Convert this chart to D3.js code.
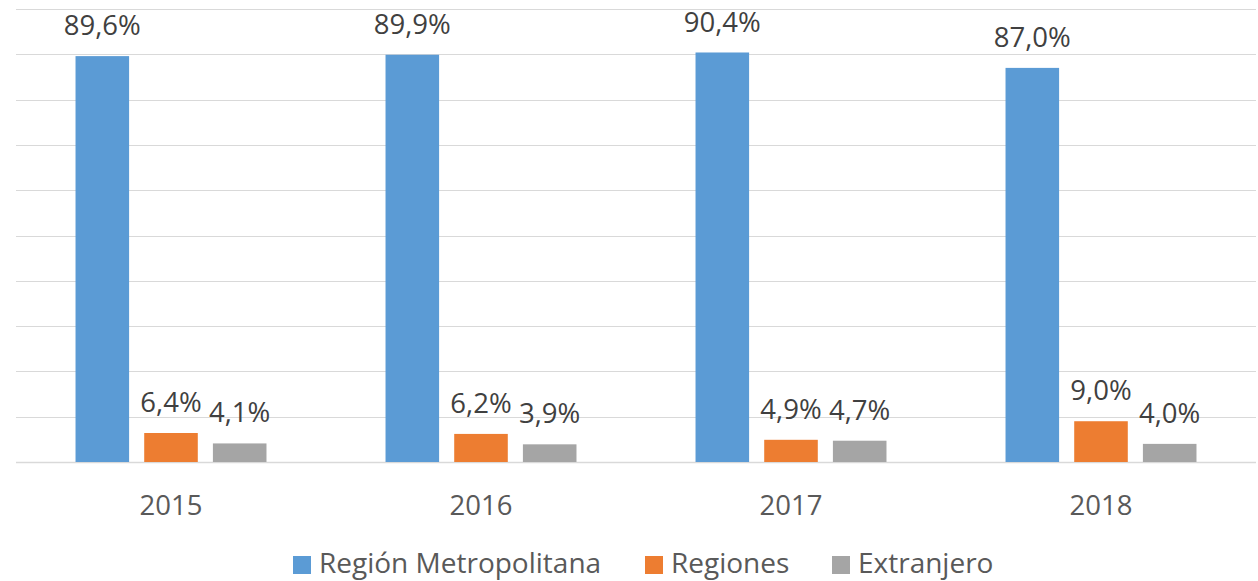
<!DOCTYPE html>
<html>
<head>
<meta charset="utf-8">
<script src="https://cdn.jsdelivr.net/npm/d3@7"></script>
<style>
  body { margin: 0; background: #fff; }
  svg { display: block; font-family: "Open Sans", sans-serif; }
</style>
</head>
<body>
<svg id="chart" width="1258" height="581"></svg>
<script>
var years = ["2015", "2016", "2017", "2018"];
var seriesNames = ["Región Metropolitana", "Regiones", "Extranjero"];
var metropolitana = [89.6, 89.9, 90.4, 87.0];
var regiones = [6.4, 6.2, 4.9, 9.0];
var extranjero = [4.1, 3.9, 4.7, 4.0];
var colors = ["#5b9bd5", "#ed7d31", "#a5a5a5"];
var gridTicks = [0, 10, 20, 30, 40, 50, 60, 70, 80, 90, 100];

var svg = d3.select("#chart"),
    margin = {top: 9, right: 2, bottom: 119, left: 16},
    width = +svg.attr("width") - margin.left - margin.right,
    height = +svg.attr("height") - margin.top - margin.bottom,
    g = svg.append("g").attr("transform", "translate(" + margin.left + "," + margin.top + ")");

var data = years.map(function(y, i) {
  return {year: y, values: [metropolitana[i], regiones[i], extranjero[i]]};
});

var x0 = d3.scaleBand()
    .domain(years)
    .range([0, width])
    .paddingInner(0.384)
    .paddingOuter(0.192);

var x1 = d3.scaleBand()
    .domain(d3.range(seriesNames.length))
    .range([0, x0.bandwidth()])
    .paddingInner(0.22);

var y = d3.scaleLinear()
    .domain([0, 100])
    .range([height, 0]);

var fmt = function(v) { return v.toFixed(1).replace(".", ",") + "%"; };

// gridlines
g.selectAll(".grid")
  .data(gridTicks)
  .enter().append("line")
    .attr("class", "grid")
    .attr("x1", 0)
    .attr("x2", width)
    .attr("y1", function(d) { return Math.round(y(d)) + 0.5; })
    .attr("y2", function(d) { return Math.round(y(d)) + 0.5; })
    .attr("stroke", "#d9d9d9")
    .attr("stroke-width", function(d) { return d === 0 ? 1.5 : 1; });

var groups = g.selectAll(".group")
  .data(data)
  .enter().append("g")
    .attr("class", "group")
    .attr("transform", function(d) { return "translate(" + x0(d.year) + ",0)"; });

groups.selectAll("rect")
  .data(function(d) { return d.values; })
  .enter().append("rect")
    .attr("x", function(d, i) { return x1(i); })
    .attr("y", function(d) { return y(d); })
    .attr("width", x1.bandwidth())
    .attr("height", function(d) { return y(0) - y(d); })
    .attr("fill", function(d, i) { return colors[i]; });

groups.selectAll(".label")
  .data(function(d) { return d.values; })
  .enter().append("text")
    .attr("class", "label")
    .attr("x", function(d, i) { return x1(i) + x1.bandwidth() / 2; })
    .attr("y", function(d) { return y(d) - 21; })
    .attr("text-anchor", "middle")
    .attr("fill", "#404040")
    .style("font-size", "27.5px")
    .text(fmt);

// x axis labels
g.selectAll(".xlabel")
  .data(years)
  .enter().append("text")
    .attr("class", "xlabel")
    .attr("x", function(d) { return x0(d) + x0.bandwidth() / 2; })
    .attr("y", height + 53)
    .attr("text-anchor", "middle")
    .attr("fill", "#595959")
    .style("font-size", "27.5px")
    .text(function(d) { return d; });

// legend
var legendX = [293, 645, 832];
var legend = svg.selectAll(".legend")
  .data(seriesNames)
  .enter().append("g")
    .attr("class", "legend")
    .attr("transform", function(d, i) { return "translate(" + legendX[i] + ",556)"; });

legend.append("rect")
    .attr("width", 18)
    .attr("height", 18)
    .attr("fill", function(d, i) { return colors[i]; });

legend.append("text")
    .attr("x", 26)
    .attr("y", 17)
    .attr("fill", "#595959")
    .style("font-size", "28px")
    .text(function(d) { return d; });
</script>
</body>
</html>
